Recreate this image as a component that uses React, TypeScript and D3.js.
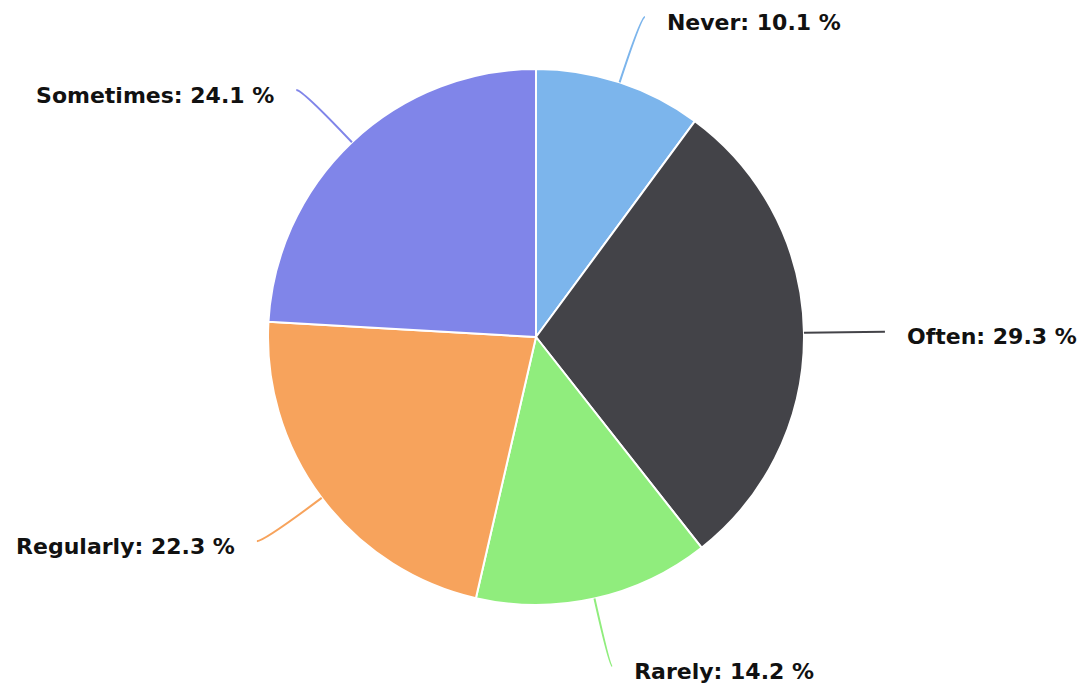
import React, { useEffect, useRef } from 'react';
import * as d3 from 'd3';

// answer shares, clockwise from 12 o'clock
const categories = ['Never', 'Often', 'Rarely', 'Regularly', 'Sometimes'];
const shares = [10.1, 29.3, 14.2, 22.3, 24.1];
const palette = ['#7cb5ec', '#434348', '#90ed7d', '#f7a35c', '#8085e9'];

type Slice = { label: string; value: number; color: string };

const slices: Slice[] = categories.map((label, i) => ({ label, value: shares[i], color: palette[i] }));

const width = 1083;
const height = 688;

const App: React.FC = () => {
  const svgRef = useRef<SVGSVGElement | null>(null);

  useEffect(() => {
    if (!svgRef.current) {
      return;
    }
    const svg = d3.select(svgRef.current);
    svg.selectAll('*').remove();

    const cx = 536;
    const cy = 337;
    const radius = 268;
    const labelRadiusX = 349;
    const labelRadiusY = 340;
    const gap = 22;

    const pie = d3
      .pie<Slice>()
      .value(d => d.value)
      .sort(null);
    const arcs = pie(slices);

    const arc = d3.arc<d3.PieArcDatum<Slice>>().innerRadius(0).outerRadius(radius);

    const g = svg.append('g').attr('transform', `translate(${cx},${cy})`);

    g.selectAll('path.slice')
      .data(arcs)
      .join('path')
      .attr('class', 'slice')
      .attr('d', arc)
      .attr('fill', d => d.data.color)
      .attr('stroke', '#ffffff')
      .attr('stroke-width', 2)
      .attr('stroke-linejoin', 'round');

    const minY = 17 - cy;
    const maxY = 666 - cy;

    arcs.forEach(d => {
      const theta = (d.startAngle + d.endAngle) / 2;
      const dirX = Math.sin(theta);
      const dirY = -Math.cos(theta);
      const p0 = [radius * dirX, radius * dirY];
      const endX = labelRadiusX * dirX;
      const endY = Math.max(minY, Math.min(maxY, labelRadiusY * dirY));

      let t = Math.abs(dirY) > 1e-6 ? (endY - p0[1]) / dirY : 0;
      t = Math.max(0, Math.min(labelRadiusX - radius, t));
      const ctrl = [p0[0] + t * dirX, p0[1] + t * dirY];

      const path = d3.path();
      path.moveTo(p0[0], p0[1]);
      path.quadraticCurveTo(ctrl[0], ctrl[1], endX, endY);

      g.append('path')
        .attr('d', path.toString())
        .attr('fill', 'none')
        .attr('stroke', d.data.color)
        .attr('stroke-width', 2);

      const right = dirX >= 0;
      g.append('text')
        .attr('x', endX + (right ? gap : -gap))
        .attr('y', endY + 5)
        .attr('dy', '0.35em')
        .attr('text-anchor', right ? 'start' : 'end')
        .attr('font-family', '"DejaVu Sans", Verdana, sans-serif')
        .attr('font-weight', 'bold')
        .attr('font-size', 22)
        .attr('fill', '#111111')
        .text(`${d.data.label}: ${d3.format('.1f')(d.data.value)} %`);
    });
  }, []);

  return (
    <svg
      ref={svgRef}
      width={width}
      height={height}
      viewBox={`0 0 ${width} ${height}`}
      style={{ position: 'absolute', left: 0, top: 0, background: '#ffffff' }}
    />
  );
};

export default App;
